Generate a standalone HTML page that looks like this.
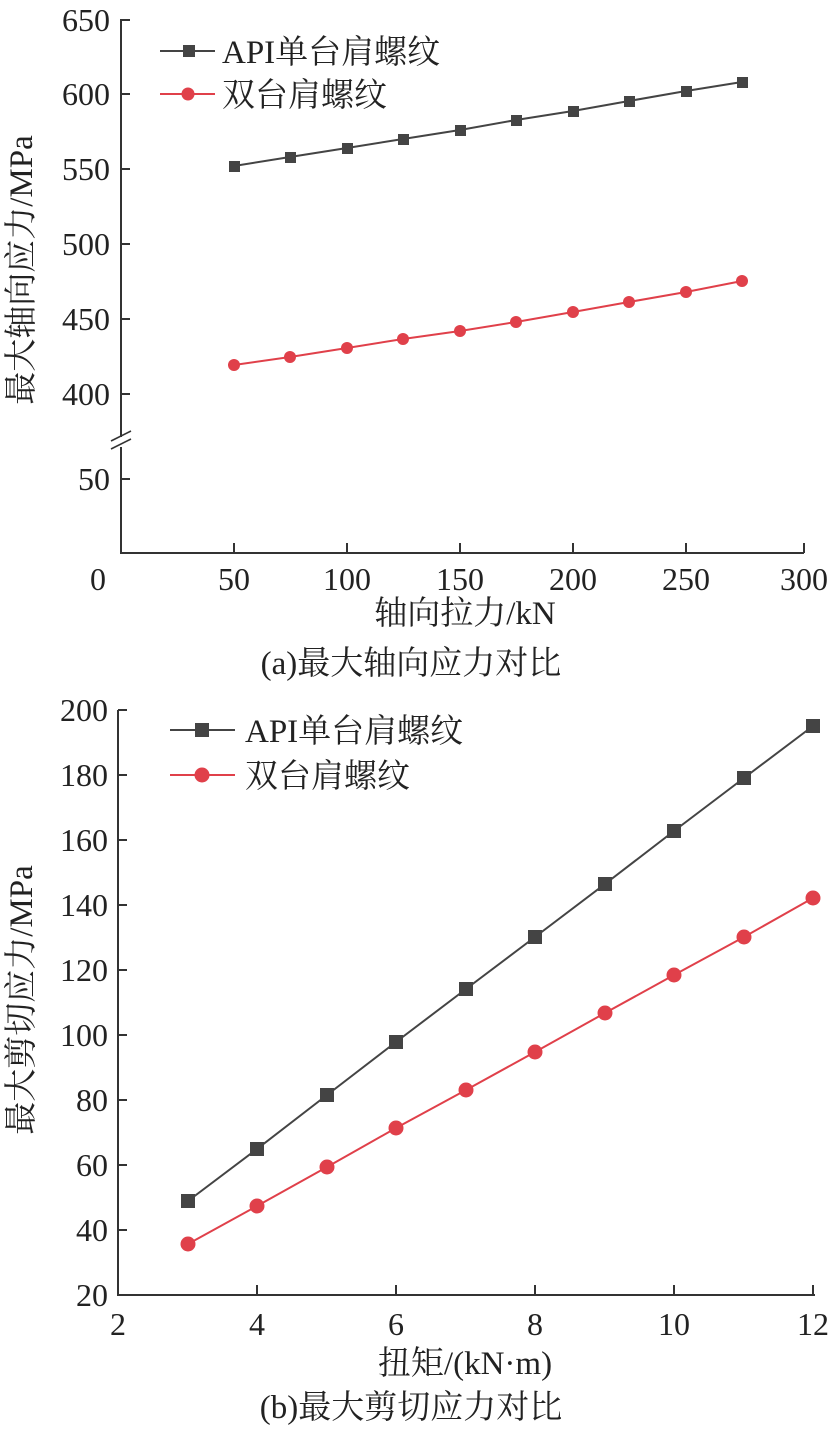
<!DOCTYPE html>
<html><head><meta charset="utf-8"><style>body{margin:0;background:#fff}svg{display:block}text{font-family:"Liberation Serif","Noto Serif CJK SC",serif;fill:#222}</style></head><body>
<svg width="832" height="1435" viewBox="0 0 832 1435" xmlns="http://www.w3.org/2000/svg">
<g stroke="#333" stroke-width="2" fill="none">
<path d="M121,19 V437 M121,447 V553 H804"/>
<path d="M111,441 L131,431 M111,449 L131,439" stroke-width="1.6"/>
<path d="M121,20 h9 M121,94 h9 M121,169 h9 M121,244 h9 M121,319 h9 M121,394 h9 M121,479 h9"/>
<path d="M234,553 v-10 M347,553 v-10 M460,553 v-10 M573,553 v-10 M686,553 v-10 M804,553 v-10"/>
<path d="M118,710 V1295 H815"/>
<path d="M118,710 h9 M118,775 h9 M118,840 h9 M118,905 h9 M118,970 h9 M118,1035 h9 M118,1100 h9 M118,1165 h9 M118,1230 h9"/>
<path d="M257,1295 v-10 M396,1295 v-10 M535,1295 v-10 M674,1295 v-10 M813,1295 v-10"/>
</g>
<g font-size="32" text-anchor="end">
<text x="110" y="31">650</text><text x="110" y="105">600</text><text x="110" y="180">550</text><text x="110" y="255">500</text><text x="110" y="330">450</text><text x="110" y="405">400</text><text x="110" y="490">50</text>
<text x="108" y="721">200</text><text x="108" y="786">180</text><text x="108" y="851">160</text><text x="108" y="916">140</text><text x="108" y="981">120</text><text x="108" y="1046">100</text><text x="108" y="1111">80</text><text x="108" y="1176">60</text><text x="108" y="1241">40</text><text x="108" y="1306">20</text>
</g>
<g font-size="32" text-anchor="middle">
<text x="98" y="590">0</text><text x="234" y="590">50</text><text x="347" y="590">100</text><text x="460" y="590">150</text><text x="573" y="590">200</text><text x="686" y="590">250</text><text x="804" y="590">300</text>
<text x="118" y="1335">2</text><text x="257" y="1335">4</text><text x="396" y="1335">6</text><text x="535" y="1335">8</text><text x="674" y="1335">10</text><text x="813" y="1335">12</text>
</g>
<g font-size="33" text-anchor="middle">
<text x="465" y="624">轴向拉力/kN</text>
<text x="411" y="674">(a)最大轴向应力对比</text>
<text x="465" y="1374">扭矩/(kN·m)</text>
<text x="411" y="1418">(b)最大剪切应力对比</text>
<text transform="translate(32,270) rotate(-90)">最大轴向应力/MPa</text>
<text transform="translate(32,1000) rotate(-90)">最大剪切应力/MPa</text>
</g>
<polyline fill="none" stroke="#444" stroke-width="2" points="234,166 290,157 347,148 403,139 460,130 516,120 573,111 629,101 686,91 742,82"/>
<g fill="#444"><rect x="229" y="161" width="11" height="11"/><rect x="285" y="152" width="11" height="11"/><rect x="342" y="143" width="11" height="11"/><rect x="398" y="134" width="11" height="11"/><rect x="455" y="125" width="11" height="11"/><rect x="511" y="115" width="11" height="11"/><rect x="568" y="106" width="11" height="11"/><rect x="624" y="96" width="11" height="11"/><rect x="681" y="86" width="11" height="11"/><rect x="737" y="77" width="11" height="11"/></g>
<polyline fill="none" stroke="#e0404a" stroke-width="2" points="234,365 290,357 347,348 403,339 460,331 516,322 573,312 629,302 686,292 742,281"/>
<g fill="#e0404a"><circle cx="234" cy="365" r="6"/><circle cx="290" cy="357" r="6"/><circle cx="347" cy="348" r="6"/><circle cx="403" cy="339" r="6"/><circle cx="460" cy="331" r="6"/><circle cx="516" cy="322" r="6"/><circle cx="573" cy="312" r="6"/><circle cx="629" cy="302" r="6"/><circle cx="686" cy="292" r="6"/><circle cx="742" cy="281" r="6"/></g>
<line x1="160" y1="51" x2="215" y2="51" stroke="#444" stroke-width="2"/><rect x="183" y="45" width="12" height="12" fill="#444"/>
<line x1="160" y1="94" x2="215" y2="94" stroke="#e0404a" stroke-width="2"/><circle cx="188" cy="94" r="6.5" fill="#e0404a"/>
<text x="222" y="63" font-size="33">API单台肩螺纹</text><text x="222" y="106" font-size="33">双台肩螺纹</text>
<polyline fill="none" stroke="#444" stroke-width="2" points="188,1201 257,1149 327,1095 396,1042 466,989 535,937 605,884 674,831 744,778 813,726"/>
<g fill="#444"><rect x="181" y="1194" width="14" height="14"/><rect x="250" y="1142" width="14" height="14"/><rect x="320" y="1088" width="14" height="14"/><rect x="389" y="1035" width="14" height="14"/><rect x="459" y="982" width="14" height="14"/><rect x="528" y="930" width="14" height="14"/><rect x="598" y="877" width="14" height="14"/><rect x="667" y="824" width="14" height="14"/><rect x="737" y="771" width="14" height="14"/><rect x="806" y="719" width="14" height="14"/></g>
<polyline fill="none" stroke="#e0404a" stroke-width="2" points="188,1244 257,1206 327,1167 396,1128 466,1090 535,1052 605,1013 674,975 744,937 813,898"/>
<g fill="#e0404a"><circle cx="188" cy="1244" r="7.5"/><circle cx="257" cy="1206" r="7.5"/><circle cx="327" cy="1167" r="7.5"/><circle cx="396" cy="1128" r="7.5"/><circle cx="466" cy="1090" r="7.5"/><circle cx="535" cy="1052" r="7.5"/><circle cx="605" cy="1013" r="7.5"/><circle cx="674" cy="975" r="7.5"/><circle cx="744" cy="937" r="7.5"/><circle cx="813" cy="898" r="7.5"/></g>
<line x1="170" y1="730" x2="235" y2="730" stroke="#444" stroke-width="2"/><rect x="195" y="723" width="14" height="14" fill="#444"/>
<line x1="170" y1="775" x2="235" y2="775" stroke="#e0404a" stroke-width="2"/><circle cx="202" cy="775" r="7.5" fill="#e0404a"/>
<text x="245" y="742" font-size="33">API单台肩螺纹</text><text x="245" y="787" font-size="33">双台肩螺纹</text>
</svg>
</body></html>
